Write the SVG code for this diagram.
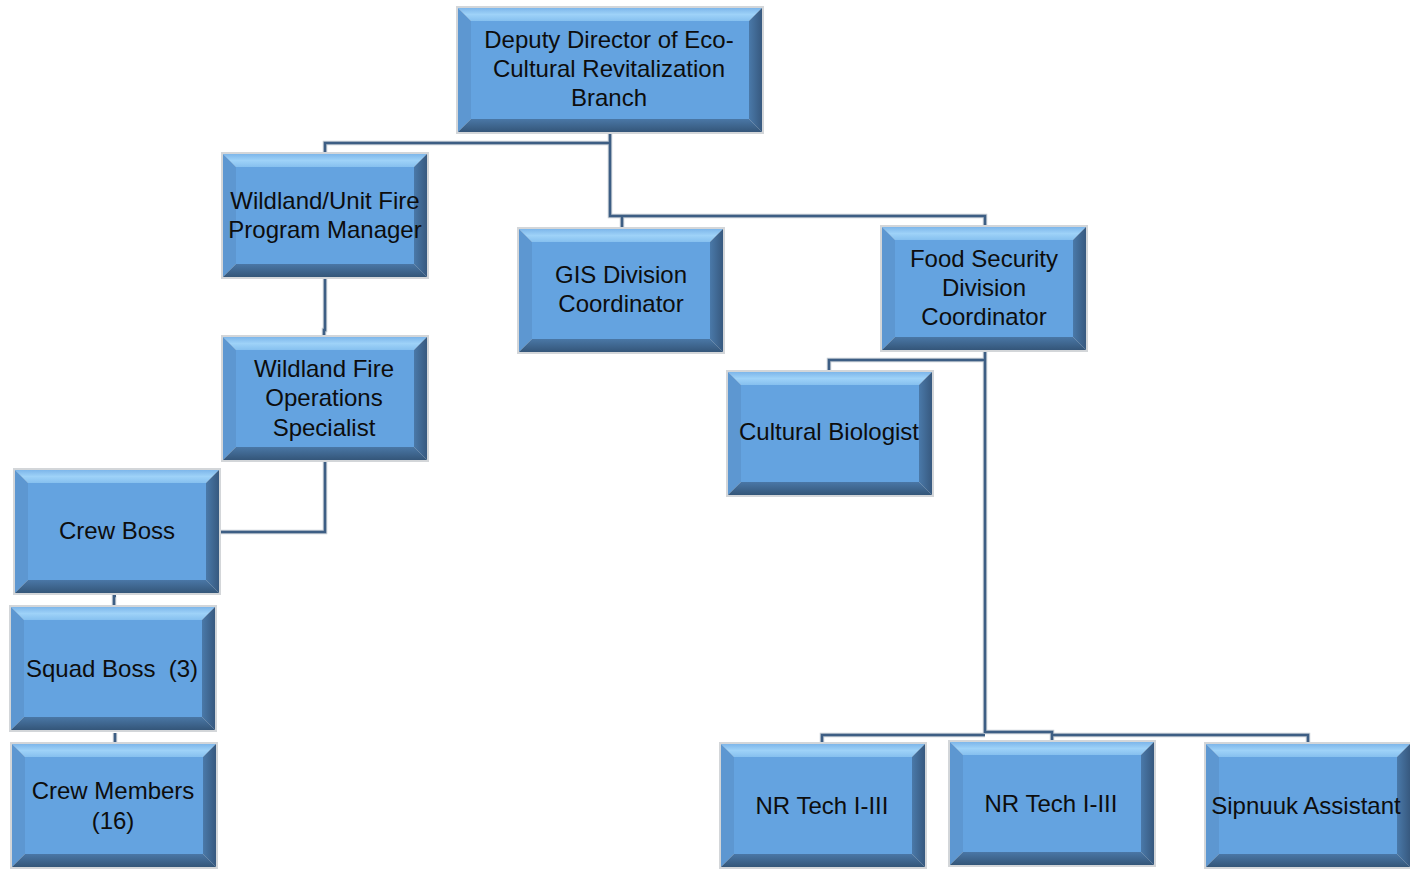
<svg xmlns="http://www.w3.org/2000/svg" xmlns:xlink="http://www.w3.org/1999/xlink" width="1410" height="869" viewBox="0 0 1410 869">
<style>
.lbl{font-family:"Liberation Sans",Arial,sans-serif;font-size:24px;fill:#0d0d0d;text-anchor:middle}
.under{fill:none;stroke:#c3cbd3;stroke-width:4.5}
.conn{fill:none;stroke:#3d5e84;stroke-width:2.5}
</style>
<defs>
<linearGradient id="topg" x1="0" y1="0" x2="0" y2="1">
<stop offset="0" stop-color="#7db6ea"/><stop offset="0.5" stop-color="#9ed2f8"/><stop offset="1" stop-color="#86c0ef"/>
</linearGradient>
<linearGradient id="botg" x1="0" y1="0" x2="0" y2="1">
<stop offset="0" stop-color="#4a77a6"/><stop offset="1" stop-color="#345679"/>
</linearGradient>
<linearGradient id="rg" x1="0" y1="0" x2="1" y2="0">
<stop offset="0" stop-color="#4a79a9"/><stop offset="1" stop-color="#37597f"/>
</linearGradient>
<g id="box">
<rect x="0" y="0" width="208" height="127" fill="#d3d6d9"/>
<polygon points="2,2 206,2 193,15 15,15" fill="url(#topg)"/>
<polygon points="2,2 15,15 15,112 2,125" fill="#5d97d1"/>
<polygon points="206,2 206,125 193,112 193,15" fill="url(#rg)"/>
<polygon points="2,125 206,125 193,112 15,112" fill="url(#botg)"/>
<rect x="15" y="15" width="178" height="97" fill="#64a3e0"/>
</g>
<g id="boxw">
<rect x="0" y="0" width="308" height="128" fill="#d3d6d9"/>
<polygon points="2,2 306,2 293,15 15,15" fill="url(#topg)"/>
<polygon points="2,2 15,15 15,113 2,126" fill="#5d97d1"/>
<polygon points="306,2 306,126 293,113 293,15" fill="url(#rg)"/>
<polygon points="2,126 306,126 293,113 15,113" fill="url(#botg)"/>
<rect x="15" y="15" width="278" height="98" fill="#64a3e0"/>
</g>
</defs>
<rect width="1410" height="869" fill="#ffffff"/>
<g id="connectors">
<path class="under" d="M610,133 V143 H325 V152 M610,143 V216 H985 V225 M622,216 V227 M325,279 V330 H324 V335 M325,462 V532 H221 M116,596 H114 V605 M115,733 V742 M985,352 V733 M985,360 H829 V370 M985,735 H822 V742 M985,732 H1052 V740 M1052,735 H1308 V742"/>
<path class="conn" d="M610,133 V143 H325 V152 M610,143 V216 H985 V225 M622,216 V227 M325,279 V330 H324 V335 M325,462 V532 H221 M116,596 H114 V605 M115,733 V742 M985,352 V733 M985,360 H829 V370 M985,735 H822 V742 M985,732 H1052 V740 M1052,735 H1308 V742"/>
</g>
<g id="n-deputy"><use xlink:href="#boxw" x="456" y="6"/>
<text class="lbl"><tspan x="609" y="48">Deputy Director of Eco-</tspan><tspan x="609" y="77">Cultural Revitalization</tspan><tspan x="609" y="106">Branch</tspan></text></g>
<g id="n-wufpm"><use xlink:href="#box" x="221" y="152"/>
<text class="lbl"><tspan x="325" y="209">Wildland/Unit Fire</tspan><tspan x="325" y="238">Program Manager</tspan></text></g>
<g id="n-gis"><use xlink:href="#box" x="517" y="227"/>
<text class="lbl"><tspan x="621" y="283">GIS Division</tspan><tspan x="621" y="312">Coordinator</tspan></text></g>
<g id="n-food"><use xlink:href="#box" x="880" y="225"/>
<text class="lbl"><tspan x="984" y="267">Food Security</tspan><tspan x="984" y="296">Division</tspan><tspan x="984" y="325">Coordinator</tspan></text></g>
<g id="n-biologist"><use xlink:href="#box" x="726" y="370"/>
<text class="lbl" x="829" y="440">Cultural Biologist</text></g>
<g id="n-wfos"><use xlink:href="#box" x="221" y="335"/>
<text class="lbl"><tspan x="324" y="377">Wildland Fire</tspan><tspan x="324" y="406">Operations</tspan><tspan x="324" y="436">Specialist</tspan></text></g>
<g id="n-crewboss"><use xlink:href="#box" x="13" y="468"/>
<text class="lbl" x="117" y="539">Crew Boss</text></g>
<g id="n-squad"><use xlink:href="#box" x="9" y="605"/>
<text class="lbl" x="112" y="677" xml:space="preserve" style="white-space:pre">Squad Boss  (3)</text></g>
<g id="n-crewmembers"><use xlink:href="#box" x="10" y="742"/>
<text class="lbl"><tspan x="113" y="799">Crew Members</tspan><tspan x="113" y="829">(16)</tspan></text></g>
<g id="n-nrtech1"><use xlink:href="#box" x="719" y="742"/>
<text class="lbl" x="822" y="814">NR Tech I-III</text></g>
<g id="n-nrtech2"><use xlink:href="#box" x="948" y="740"/>
<text class="lbl" x="1051" y="812">NR Tech I-III</text></g>
<g id="n-sipnuuk"><use xlink:href="#box" x="1204" y="742"/>
<text class="lbl" x="1306" y="814">Sipnuuk Assistant</text></g>
</svg>
